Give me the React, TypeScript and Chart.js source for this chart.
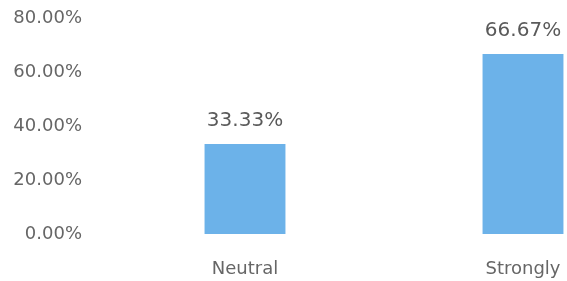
import React, { useEffect, useRef } from 'react';
import { Chart, registerables } from 'chart.js';

Chart.register(...registerables);

const categories = ['Neutral', 'Strongly'];
const values = [33.33, 66.67];
const yTicks = [0, 20, 40, 60, 80];

const FONT = '"DejaVu Sans", sans-serif';

const valueLabels = {
  id: 'valueLabels',
  afterDatasetsDraw(chart: any) {
    const ctx = chart.ctx;
    const meta = chart.getDatasetMeta(0);
    ctx.save();
    ctx.font = `20px ${FONT}`;
    ctx.fillStyle = '#5a5a5a';
    ctx.textAlign = 'center';
    ctx.textBaseline = 'alphabetic';
    meta.data.forEach((bar: any, i: number) => {
      ctx.fillText(values[i].toFixed(2) + '%', bar.x, bar.y - 18);
    });
    ctx.restore();
  },
};

export default function App() {
  const ref = useRef<HTMLCanvasElement | null>(null);
  useEffect(() => {
    if (!ref.current) return;
    const chart = new Chart(ref.current, {
      type: 'bar',
      data: {
        labels: categories,
        datasets: [
          {
            data: values,
            backgroundColor: '#6cb2e9',
            borderWidth: 0,
            categoryPercentage: 1,
            barPercentage: 0.291,
          },
        ],
      },
      plugins: [valueLabels],
      options: {
        animation: false,
        responsive: false,
        layout: { padding: { top: 18, left: 0, right: 0, bottom: 0 } },
        plugins: { legend: { display: false }, tooltip: { enabled: false } },
        scales: {
          x: {
            grid: { display: false, drawTicks: false },
            border: { display: false },
            ticks: { color: '#666', font: { family: FONT, size: 18 }, padding: 25 },
            afterFit: (s: any) => {
              s.height = 47;
              s.paddingLeft = 0;
              s.paddingRight = 0;
            },
          },
          y: {
            min: yTicks[0],
            max: yTicks[yTicks.length - 1],
            afterBuildTicks: (s: any) => { s.ticks = yTicks.map((v) => ({ value: v })); },
            grid: { display: false, drawTicks: false },
            border: { display: false },
            ticks: {
              color: '#666',
              font: { family: FONT, size: 18 },
              padding: 24,
              callback: (v: any) => Number(v).toFixed(2) + '%',
            },
            afterFit: (s: any) => {
              s.width = 106;
              s.paddingTop = 0;
              s.paddingBottom = 0;
            },
          },
        },
      },
    });
    return () => chart.destroy();
  }, []);
  return (
    <div style={{ position: 'fixed', left: 0, top: 0, width: 567, height: 281, overflow: 'hidden', background: '#fff' }}>
      <canvas ref={ref} width={662} height={281} style={{ width: 662, height: 281, display: 'block' }} />
    </div>
  );
}
